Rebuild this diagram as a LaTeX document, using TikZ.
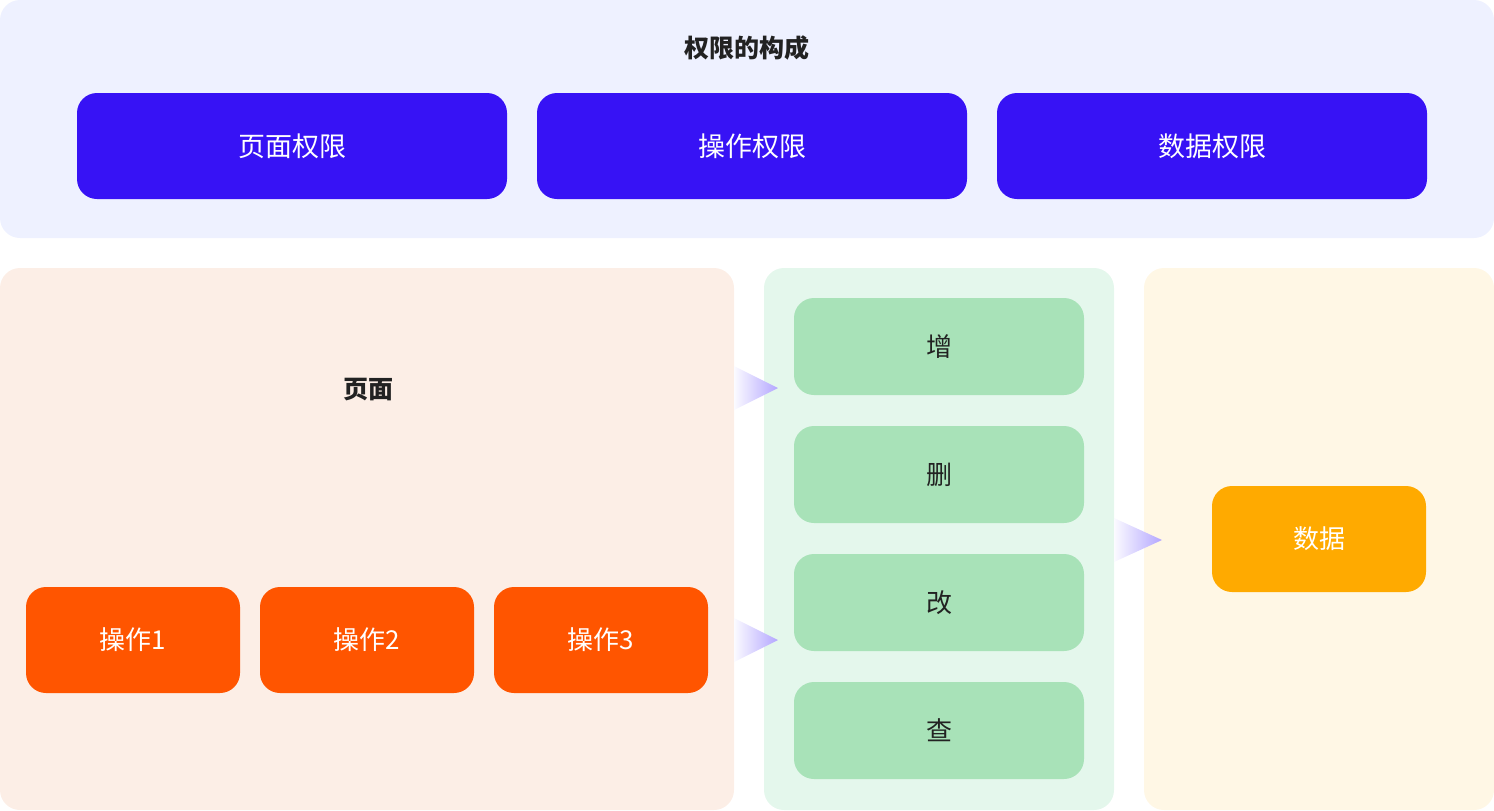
\documentclass[tikz,border=0pt]{standalone}
\usepackage{fontspec}
\setmainfont{Noto Sans CJK SC}
\definecolor{topbg}{HTML}{EEF1FF}
\definecolor{blueb}{HTML}{3712F5}
\definecolor{pagebg}{HTML}{FCEEE6}
\definecolor{orangeb}{HTML}{FF5500}
\definecolor{greenbg}{HTML}{E4F7EC}
\definecolor{greenb}{HTML}{A8E2B8}
\definecolor{databg}{HTML}{FFF7E5}
\definecolor{datab}{HTML}{FFAA00}
\definecolor{tri}{HTML}{B3A6FF}
\definecolor{txt}{HTML}{222222}
\begin{document}
\begin{tikzpicture}[x=0.5pt,y=-0.5pt,
  panel/.style={rounded corners=10pt},
  box/.style={draw=none,rounded corners=10pt,font=\fontsize{13}{15}\selectfont},
  tri/.style={left color=tri!5,right color=tri}]
\useasboundingbox (0,0) rectangle (1494,810);
\fill[topbg,panel] (0,0) rectangle (1494,238);
\fill[pagebg,panel] (0,268) rectangle (734,810);
\fill[greenbg,panel] (764,268) rectangle (1114,810);
\fill[databg,panel] (1144,268) rectangle (1494,810);
\node[font=\bfseries\fontsize{12.5}{15}\selectfont,text=txt] (title) at (747,48) {权限的构成};
\node[font=\bfseries\fontsize{12.5}{15}\selectfont,text=txt] (page) at (368,390) {页面};
\foreach \n/\x/\t in {b1/77/页面权限,b2/537/操作权限,b3/997/数据权限}
  \path[fill=blueb,rounded corners=10pt] (\x,93) rectangle ++(430,106) node[midway,text=white,font=\fontsize{13.5}{15}\selectfont] (\n) {\t};
\foreach \n/\x/\t in {o1/26/操作1,o2/260/操作2,o3/494/操作3}
  \path[fill=orangeb,rounded corners=10pt] (\x,587) rectangle ++(214,106) node[midway,text=white,font=\fontsize{13}{15}\selectfont] (\n) {\t};
\foreach \n/\y/\t in {g1/298/增,g2/426/删,g3/554/改,g4/682/查}
  \path[fill=greenb,rounded corners=10pt] (794,\y) rectangle ++(290,97) node[midway,text=txt,font=\fontsize{13}{15}\selectfont] (\n) {\t};
\path[fill=datab,rounded corners=10pt] (1212,486) rectangle (1426,592) node[midway,text=white,font=\fontsize{13}{15}\selectfont] (data) {数据};
\shade[tri] (734,366) -- (778,388) -- (734,410) -- cycle;
\shade[tri] (734,618) -- (778,640) -- (734,662) -- cycle;
\shade[tri] (1114,518) -- (1162,540) -- (1114,562) -- cycle;
\end{tikzpicture}
\end{document}
